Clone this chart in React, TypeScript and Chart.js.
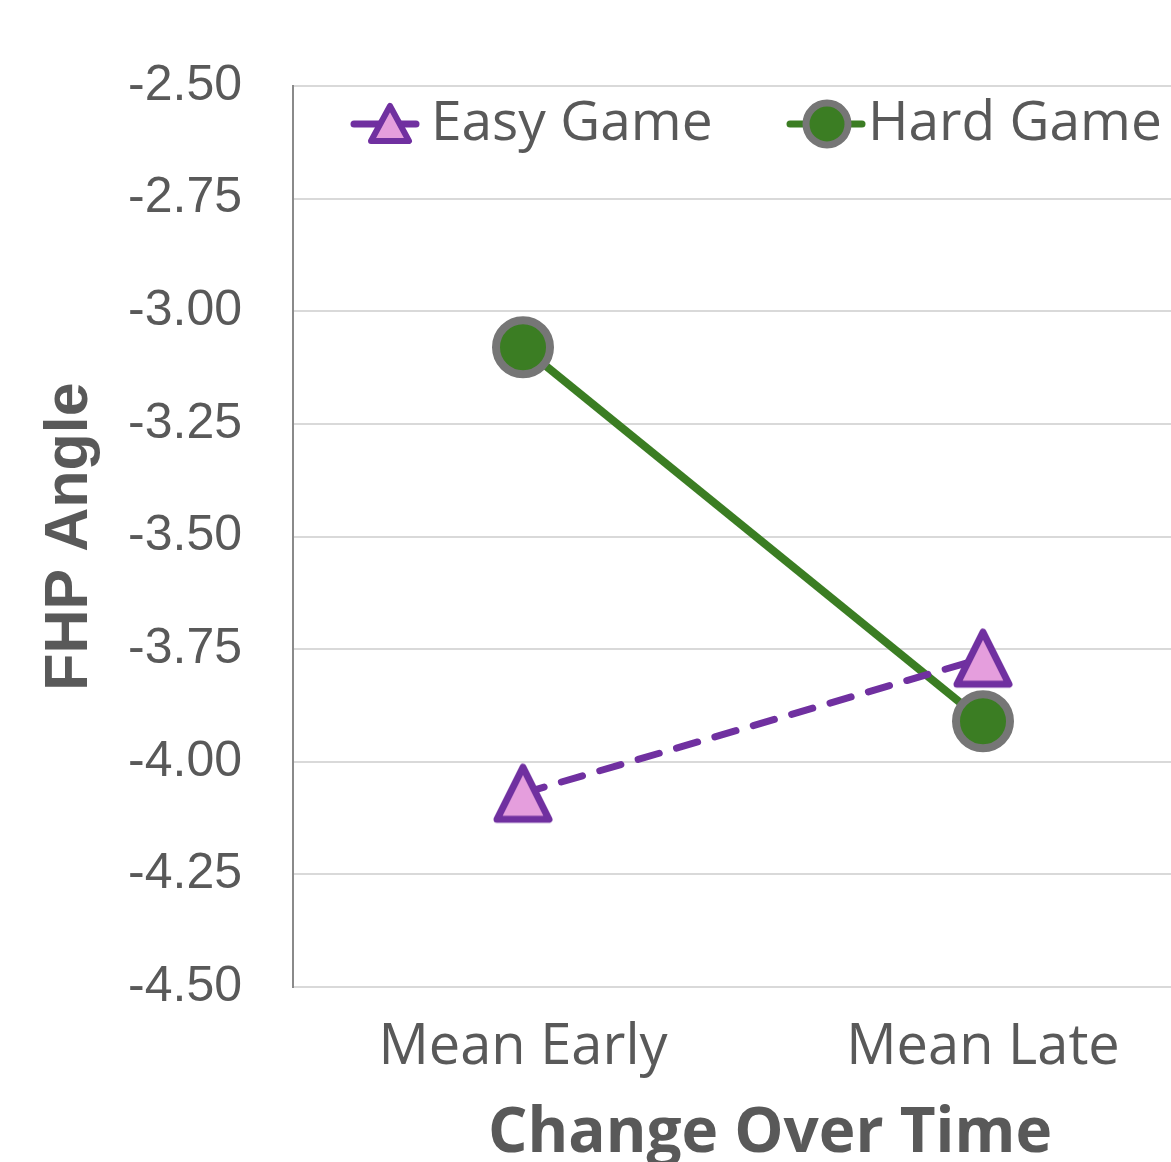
import React, { useEffect, useRef } from "react";
import { Chart, registerables } from "chart.js";

Chart.register(...registerables);

const categories = ["Mean Early", "Mean Late"];
const easyGame = [-4.07, -3.77];
const hardGame = [-3.08, -3.91];
const seriesNames = ["Easy Game", "Hard Game"];
const yMin = -4.5;
const yMax = -2.5;
const yStep = 0.25;
const yTitle = "FHP Angle";
const xTitle = "Change Over Time";

const TEXT = "#595959";
const PURPLE = "#7030A0";
const PINK = "#E59EDD";
const GREEN = "#3B7D23";
const GRAY = "#767676";

function makeTriangle(): HTMLCanvasElement {
  const c = document.createElement("canvas");
  c.width = 64;
  c.height = 64;
  const ctx = c.getContext("2d")!;
  ctx.beginPath();
  ctx.moveTo(32, 6);
  ctx.lineTo(58, 58);
  ctx.lineTo(6, 58);
  ctx.closePath();
  ctx.fillStyle = PINK;
  ctx.fill();
  ctx.lineJoin = "round";
  ctx.lineWidth = 7;
  ctx.strokeStyle = PURPLE;
  ctx.stroke();
  return c;
}

const legendPlugin = {
  id: "customLegend",
  afterDraw(chart: any) {
    const ctx = chart.ctx as CanvasRenderingContext2D;
    const y = 124;
    ctx.save();
    ctx.lineCap = "round";
    ctx.strokeStyle = PURPLE;
    ctx.lineWidth = 7;
    ctx.beginPath();
    ctx.moveTo(354, y);
    ctx.lineTo(416, y);
    ctx.stroke();
    ctx.beginPath();
    ctx.moveTo(390, 106);
    ctx.lineTo(409, 141);
    ctx.lineTo(371, 141);
    ctx.closePath();
    ctx.fillStyle = PINK;
    ctx.fill();
    ctx.lineJoin = "round";
    ctx.lineWidth = 6;
    ctx.stroke();
    ctx.fillStyle = TEXT;
    ctx.font = "55px 'Open Sans'";
    ctx.textBaseline = "middle";
    ctx.textAlign = "left";
    ctx.fillText(seriesNames[0], 431, y);
    ctx.strokeStyle = GREEN;
    ctx.lineWidth = 7;
    ctx.beginPath();
    ctx.moveTo(790, y);
    ctx.lineTo(862, y);
    ctx.stroke();
    ctx.beginPath();
    ctx.arc(827, y, 21, 0, Math.PI * 2);
    ctx.fillStyle = GREEN;
    ctx.fill();
    ctx.strokeStyle = GRAY;
    ctx.lineWidth = 7;
    ctx.stroke();
    ctx.fillStyle = TEXT;
    ctx.fillText(seriesNames[1], 868, y);
    ctx.restore();
  },
};

const xTitlePlugin = {
  id: "xTitle",
  afterDraw(chart: any) {
    const ctx = chart.ctx as CanvasRenderingContext2D;
    ctx.save();
    ctx.fillStyle = TEXT;
    ctx.font = "bold 62px 'Open Sans'";
    ctx.textAlign = "center";
    ctx.textBaseline = "alphabetic";
    ctx.fillText(xTitle, 770, 1152);
    ctx.restore();
  },
};

export default function App() {
  const ref = useRef<HTMLCanvasElement>(null);
  useEffect(() => {
    if (!ref.current) return;
    const tri = makeTriangle();
    const chart = new Chart(ref.current, {
      type: "line",
      data: {
        labels: categories,
        datasets: [
          {
            label: seriesNames[0],
            data: easyGame,
            borderColor: PURPLE,
            borderWidth: 7,
            borderDash: [22, 18],
            borderCapStyle: "round",
            pointStyle: tri as any,
            pointRadius: 30,
            pointBackgroundColor: PINK,
            pointBorderColor: PURPLE,
            tension: 0,
          },
          {
            label: seriesNames[1],
            data: hardGame,
            borderColor: GREEN,
            borderWidth: 8,
            pointStyle: "circle",
            pointRadius: 27,
            pointBorderWidth: 8,
            pointBackgroundColor: GREEN,
            pointBorderColor: GRAY,
            tension: 0,
          },
        ],
      },
      options: {
        animation: false,
        responsive: false,
        maintainAspectRatio: false,
        layout: { padding: { top: 86, right: 0, left: 0, bottom: 0 } },
        plugins: {
          legend: { display: false },
          tooltip: { enabled: false },
        },
        scales: {
          x: {
            type: "category",
            offset: true,
            grid: { display: false, drawTicks: false },
            border: { display: false },
            ticks: {
              color: TEXT,
              padding: 27,
              font: { family: "'Open Sans'", size: 56 },
            },
            afterFit(scale: any) {
              scale.height = 1200 - 987;
            },
          },
          y: {
            min: yMin,
            max: yMax,
            grid: { color: "#D9D9D9", lineWidth: 2, drawTicks: false },
            border: { color: "#8A8A8A", width: 2 },
            ticks: {
              stepSize: yStep,
              color: TEXT,
              padding: 51,
              font: { family: "'Liberation Sans'", size: 50 },
              callback: (v: any) => Number(v).toFixed(2),
            },
            title: {
              display: true,
              text: yTitle,
              color: TEXT,
              font: { family: "'Liberation Sans'", size: 61, weight: "bold" },
              padding: { top: 34, bottom: 0 },
            },
            afterFit(scale: any) {
              scale.width = 293;
            },
          },
        },
      },
      plugins: [legendPlugin, xTitlePlugin],
    });
    return () => chart.destroy();
  }, []);
  return (
    <div style={{ position: "fixed", left: 0, top: 0, width: 1171, height: 1162, overflow: "hidden", background: "#fff" }}>
      <canvas ref={ref} width={1250} height={1200} style={{ display: "block", width: 1250, height: 1200 }} />
    </div>
  );
}
